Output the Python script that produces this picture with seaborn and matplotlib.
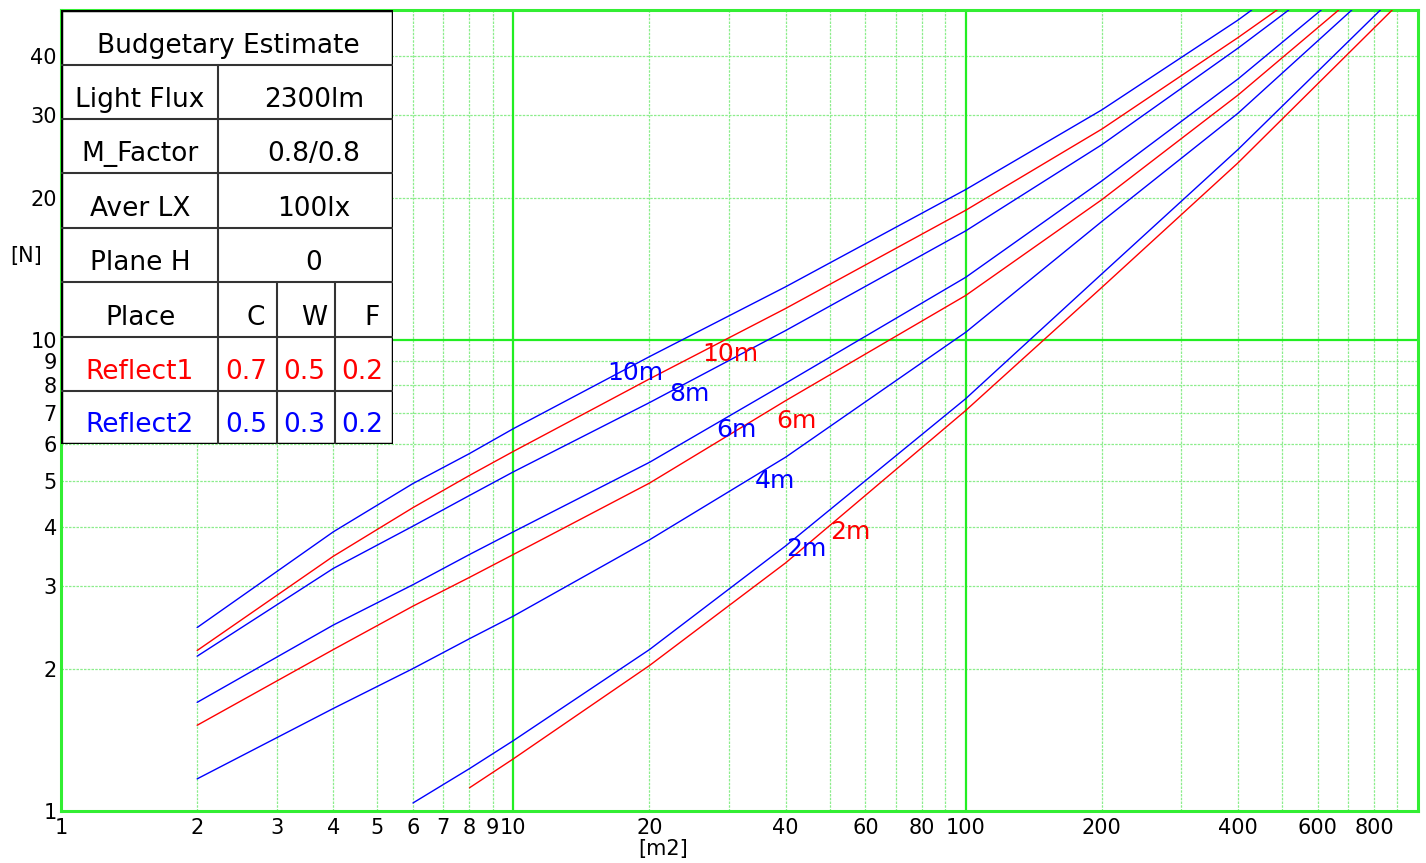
import numpy as np
import pandas as pd
import seaborn as sns
import matplotlib.pyplot as plt
from matplotlib.patches import Rectangle

# 面積 [m2] 與燈具數量 [N]
area = [2, 4, 6, 8, 10, 20, 40, 100, 200, 400]
nan = np.nan
blue_10m = [2.45, 3.91, 4.95, 5.73, 6.47, 9.20, 12.94, 20.8, 30.7, 47.6]
red_10m = [2.19, 3.47, 4.40, 5.15, 5.79, 8.25, 11.64, 18.8, 27.95, 43.7]
blue_8m = [2.13, 3.27, 4.02, 4.67, 5.24, 7.35, 10.45, 17.0, 25.9, 41.5]
blue_6m = [1.70, 2.48, 3.02, 3.50, 3.91, 5.49, 8.08, 13.55, 21.7, 35.7]
red_6m = [1.52, 2.20, 2.72, 3.13, 3.50, 4.96, 7.42, 12.4, 19.8, 33.0]
blue_4m = [1.17, 1.65, 2.005, 2.32, 2.59, 3.76, 5.63, 10.36, 17.8, 30.2]
blue_2m = [nan, nan, 1.04, 1.23, 1.41, 2.20, 3.65, 7.49, 13.78, 25.3]
red_2m = [nan, nan, nan, 1.12, 1.29, 2.035, 3.36, 7.07, 12.9, 23.7]

series_names = ["b10", "r10", "b8", "b6", "r6", "b4", "b2", "r2"]
series_reflect = ["Reflect2", "Reflect1", "Reflect2", "Reflect2",
                  "Reflect1", "Reflect2", "Reflect2", "Reflect1"]
series_values = [blue_10m, red_10m, blue_8m, blue_6m, red_6m, blue_4m, blue_2m, red_2m]
# 曲線到達上邊界 (N=50) 時的面積
end_area = [429, 488, 518, 611, 668, 714, 826, 877]
end_n = 50

# 曲線旁的高度標籤
label_text = ["10m", "10m", "8m", "6m", "6m", "4m", "2m", "2m"]
label_x = [18.65, 30.2, 24.5, 31.2, 42.3, 37.8, 44.5, 55.7]
label_y = [8.51, 9.3, 7.65, 6.42, 6.73, 5.0, 3.59, 3.9]

xtick_vals = [1, 2, 3, 4, 5, 6, 7, 8, 9, 10, 20, 40, 60, 80, 100, 200, 400, 600, 800]
ytick_vals = [1, 2, 3, 4, 5, 6, 7, 8, 9, 10, 20, 30, 40]

table_rows = [["Light Flux", "2300lm"], ["M_Factor", "0.8/0.8"],
              ["Aver LX", "100lx"], ["Plane H", "0"]]
place_cols = ["C", "W", "F"]
reflect1 = [0.7, 0.5, 0.2]
reflect2 = [0.5, 0.3, 0.2]

rows = []
for name, refl, vals, xe in zip(series_names, series_reflect, series_values, end_area):
    for x, y in zip(area, vals):
        if not np.isnan(y):
            rows.append((x, y, refl, name))
    rows.append((xe, end_n, refl, name))
df = pd.DataFrame(rows, columns=["area", "n", "reflect", "series"])

sns.set_style("white")
plt.rcParams['font.family'] = ['DejaVu Sans']
plt.rcParams['text.color'] = 'black'
plt.rcParams['xtick.color'] = 'black'
plt.rcParams['ytick.color'] = 'black'

fig = plt.figure(figsize=(14.26, 8.63), dpi=100)
ax = fig.add_axes([61 / 1426, 52 / 863, 1357 / 1426, 801 / 863])

palette = {"Reflect1": "#ff0000", "Reflect2": "#0000ff"}
sns.lineplot(data=df, x="area", y="n", hue="reflect", units="series",
             estimator=None, palette=palette, linewidth=1.0, legend=False,
             sort=True, ax=ax, zorder=3)

ax.set_xscale("log")
ax.set_yscale("log")
ax.set_xlim(1, 1000)
ax.set_ylim(1, 50)

# 格線
minor_col = "#8ced8c"
major_col = "#22ee22"
for dec in [1, 10, 100]:
    for k in range(2, 10):
        ax.axvline(dec * k, color=minor_col, lw=0.9, ls=(0, (2, 1)), zorder=1)
for k in range(2, 10):
    ax.axhline(k, color=minor_col, lw=0.9, ls=(0, (2, 1)), zorder=1)
for k in [20, 30, 40]:
    ax.axhline(k, color=minor_col, lw=0.9, ls=(0, (2, 1)), zorder=1)
for v in [10, 100]:
    ax.axvline(v, color=major_col, lw=1.6, zorder=1)
ax.axhline(10, color=major_col, lw=1.6, zorder=1)

for sp in ax.spines.values():
    sp.set_color("#33ee33")
    sp.set_linewidth(2.2)

ax.set_xticks(xtick_vals)
ax.set_xticklabels([str(v) for v in xtick_vals])
ax.set_yticks(ytick_vals)
ax.set_yticklabels([str(v) for v in ytick_vals])
ax.xaxis.set_minor_locator(plt.NullLocator())
ax.yaxis.set_minor_locator(plt.NullLocator())
ax.tick_params(length=0, labelsize=15)
ax.tick_params(axis="x", pad=5)
ax.tick_params(axis="y", pad=3)
ax.set_xlabel("")
ax.set_ylabel("")

fig.text(26 / 1426, 1 - 256 / 863, "[N]", fontsize=15, ha="center", va="center")
fig.text(663 / 1426, 1 - 849 / 863, "[m2]", fontsize=15, ha="center", va="center")

for t, x, y, refl in zip(label_text, label_x, label_y, series_reflect):
    ax.text(x, y, t, color=palette[refl], fontsize=18, ha="center", va="center", zorder=4)

# 左上角的參數表
tx = fig.add_axes([61 / 1426, 1 - 444 / 863, 332 / 1426, 434 / 863])
tx.set_xlim(61, 393)
tx.set_ylim(444, 10)
tx.axis("off")
tx.add_patch(Rectangle((61, 10), 332, 434, facecolor="white", edgecolor="black", lw=2.5))
row_y = [10, 65, 119, 173, 228, 282, 337, 391, 444]
for y in row_y[1:-1]:
    tx.plot([61, 393], [y, y], color="#333333", lw=1.5)
tx.plot([218, 218], [65, 444], color="#333333", lw=1.5)
for x in [277, 335]:
    tx.plot([x, x], [282, 444], color="#333333", lw=1.5)

fs = 19
tx.text(228, row_y[1] - 12, "Budgetary Estimate", fontsize=fs, ha="center", va="baseline")
for i, (name, val) in enumerate(table_rows):
    base = row_y[i + 2] - 12
    tx.text(140, base, name, fontsize=fs, ha="center", va="baseline")
    tx.text(314, base, val, fontsize=fs, ha="center", va="baseline")
base = row_y[6] - 12
tx.text(140, base, "Place", fontsize=fs, ha="center", va="baseline")
for x, c in zip([256, 314, 372], place_cols):
    tx.text(x, base, c, fontsize=fs, ha="center", va="baseline")
for j, (lab, vals, col) in enumerate([("Reflect1", reflect1, "#ff0000"),
                                      ("Reflect2", reflect2, "#0000ff")]):
    base = row_y[7 + j] - 12
    tx.text(140, base, lab, fontsize=fs, ha="center", va="baseline", color=col)
    for x, v in zip([246, 304, 362], vals):
        tx.text(x, base, f"{v}", fontsize=fs, ha="center", va="baseline", color=col)

plt.savefig("out.png", dpi=100)
